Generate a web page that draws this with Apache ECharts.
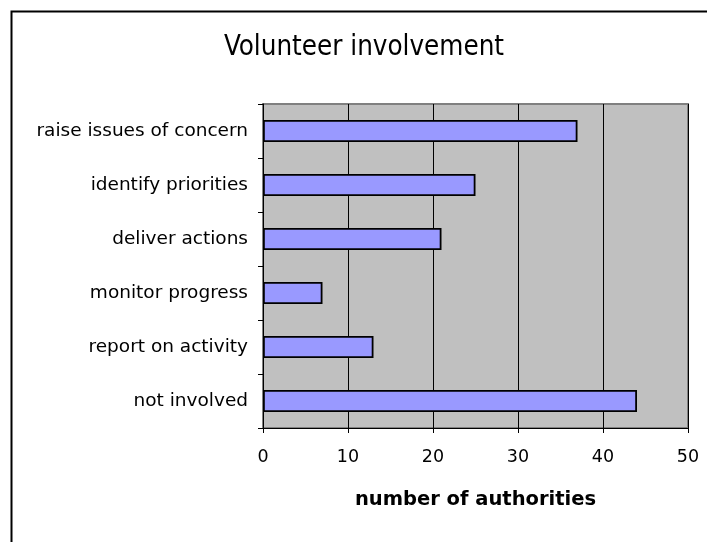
<!DOCTYPE html>
<html>
<head>
<meta charset="utf-8">
<script src="https://cdn.jsdelivr.net/npm/echarts@6/dist/echarts.min.js"></script>
<style>html,body{margin:0;padding:0;background:#fff;}#c{width:707px;height:542px;}</style>
</head>
<body>
<div id="c"></div>
<script>
const titleText = 'Volunteer involvement';
const categories = ['not involved', 'report on activity', 'monitor progress', 'deliver actions', 'identify priorities', 'raise issues of concern'];
const values = [44, 13, 7, 21, 25, 37];
const xTicks = [0, 10, 20, 30, 40, 50];
const xAxisTitle = 'number of authorities';

const chart = echarts.init(document.getElementById('c'));
chart.setOption({
  animation: false,
  backgroundColor: '#fff',
  graphic: [{
    type: 'rect', left: 9, top: 9, silent: true,
    shape: { width: 740, height: 580 },
    style: { fill: 'none', stroke: '#000', lineWidth: 2 }
  }],
  title: {
    text: titleText, left: 359, textAlign: 'center', top: 29,
    textStyle: { fontFamily: 'DejaVu Sans Condensed', fontWeight: 'normal', fontSize: 27.5, color: '#000' }
  },
  grid: {
    left: 263, top: 104, width: 425, height: 324,
    show: true, backgroundColor: '#c0c0c0', borderColor: '#808080', borderWidth: 2
  },
  xAxis: {
    type: 'value', min: xTicks[0], max: xTicks[xTicks.length - 1], interval: 10,
    name: xAxisTitle, nameLocation: 'middle', nameGap: 62,
    nameTextStyle: { fontFamily: 'DejaVu Sans', fontWeight: 'bold', fontSize: 19.5, color: '#000' },
    axisLine: { show: true, lineStyle: { color: '#000', width: 1 } },
    axisTick: { show: true, length: 5, lineStyle: { color: '#000' } },
    axisLabel: { margin: 20, fontFamily: 'DejaVu Sans', fontSize: 17.5, color: '#000' },
    splitLine: { show: true, lineStyle: { color: '#000', width: 1 } }
  },
  yAxis: {
    type: 'category', data: categories,
    axisLine: { show: true, lineStyle: { color: '#000', width: 1 } },
    axisTick: { show: true, length: 5, lineStyle: { color: '#000' } },
    axisLabel: { margin: 15, fontFamily: 'DejaVu Sans', fontSize: 18.5, color: '#000' },
    splitLine: { show: false }
  },
  series: [{
    type: 'bar', data: values, barWidth: 22,
    itemStyle: { color: '#9999ff', borderColor: '#000', borderWidth: 1.8 }
  }]
});
</script>
</body>
</html>
